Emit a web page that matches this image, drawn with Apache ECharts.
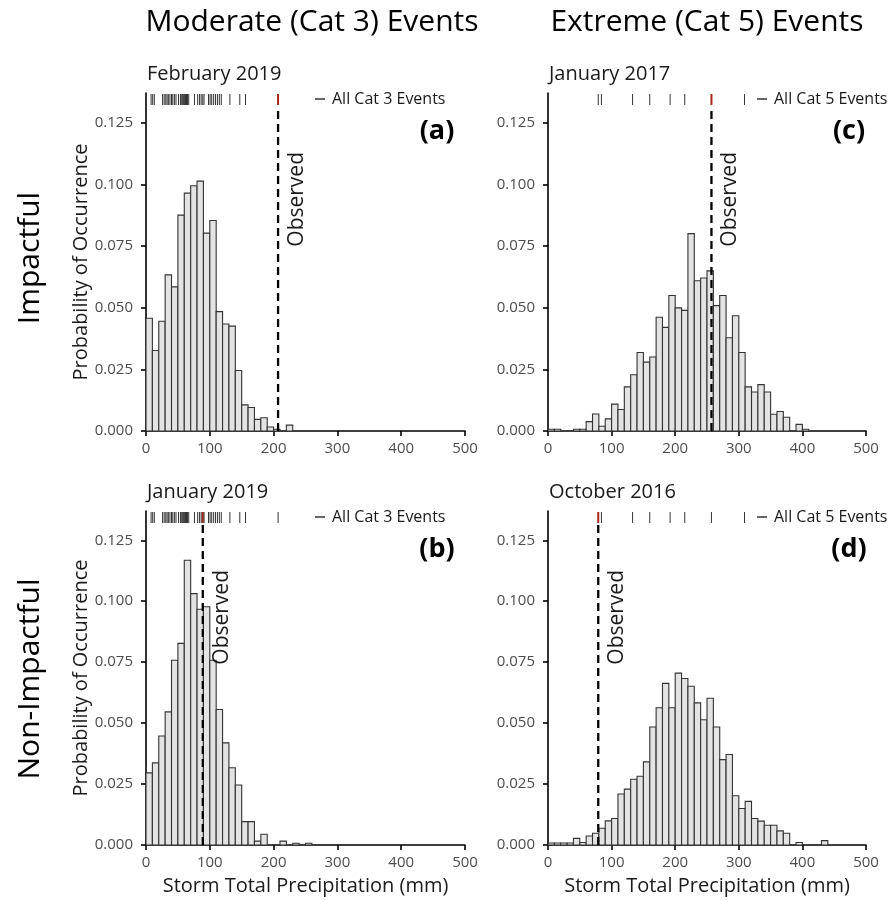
<!DOCTYPE html>
<html>
<head>
<meta charset="utf-8">
<script src="https://cdn.jsdelivr.net/npm/echarts@6/dist/echarts.min.js"></script>
<style>
  html, body { margin: 0; padding: 0; background: #fff; }
  #chart { width: 893px; height: 900px; }
</style>
</head>
<body>
<div id="chart"></div>
<script>
const FONT = '"Open Sans", "Noto Sans", sans-serif'
const BIN = 10
const X_MAX = 500
const Y_MAX = 0.137

// probability per 10 mm bin, starting at 0 mm
const probA = [0.0457, 0.0326, 0.0445, 0.0633, 0.0584, 0.0875, 0.0964, 0.0994, 0.1013, 0.0802,
  0.0853, 0.0484, 0.0434, 0.0425, 0.0245, 0.0106, 0.0095, 0.0047, 0.0054, 0.0016,
  0.0007, 0, 0.0024]
const probB = [0.0296, 0.0337, 0.0447, 0.0546, 0.0758, 0.0827, 0.1168, 0.1031, 0.0967, 0.0977,
  0.0758, 0.0556, 0.0419, 0.0317, 0.0246, 0.0096, 0.0096, 0.0016, 0.0044, 0,
  0, 0.0016, 0, 0.0007, 0, 0.0007]
const probC = [0.0007, 0.0007, 0, 0, 0.0007, 0.0007, 0.0038, 0.0069, 0.0019, 0.0049,
  0.0109, 0.0087, 0.0179, 0.0228, 0.0318, 0.0279, 0.0300, 0.0461, 0.0420, 0.0549,
  0.0499, 0.0489, 0.0800, 0.0609, 0.0620, 0.0649, 0.0508, 0.0549, 0.0378, 0.0467,
  0.0318, 0.0179, 0.0158, 0.0188, 0.0158, 0.0068, 0.0079, 0.0056, 0, 0.0027, 0.0007]
const probD = [0.0008, 0.0008, 0.0008, 0.0008, 0.0027, 0.0010, 0.0037, 0.0048, 0.0069, 0.0099,
  0.0109, 0.0209, 0.0229, 0.0270, 0.0282, 0.0341, 0.0484, 0.0563, 0.0663, 0.0563,
  0.0705, 0.0683, 0.0651, 0.0583, 0.0514, 0.0602, 0.0484, 0.0350, 0.0371, 0.0202,
  0.0150, 0.0179, 0.0109, 0.0098, 0.0081, 0.0081, 0.0058, 0.0048, 0, 0.0010,
  0, 0, 0, 0.0018]

// storm totals (mm) of every event in each category (rug)
const cat3Events = [8, 10.5, 13, 26, 28.5, 31, 33, 35, 37.5, 40, 42, 44.5, 47, 51, 54,
  56, 57.5, 59, 60.5, 62, 63.5, 65, 67, 76, 81, 84, 86.5, 89, 91, 98, 100.5, 103,
  106, 109, 112, 115, 118, 131.5, 147, 156, 207]
const cat5Events = [79, 84, 133, 160, 192, 215, 257, 309]

const observed = [207, 89, 257, 79]
const months = ['February 2019', 'January 2019', 'January 2017', 'October 2016']
const letters = ['(a)', '(b)', '(c)', '(d)']
const yTicks = [0, 0.025, 0.05, 0.075, 0.1, 0.125]

const panels = [
  { probs: probA, events: cat3Events, rug: 'All Cat 3 Events', left: 146, top: 93, height: 338, width: 319, letterX: 437, legendX: 315, col: 0, row: 0 },
  { probs: probB, events: cat3Events, rug: 'All Cat 3 Events', left: 146, top: 511, height: 334, width: 319, letterX: 437, legendX: 315, col: 0, row: 1 },
  { probs: probC, events: cat5Events, rug: 'All Cat 5 Events', left: 548, top: 93, height: 338, width: 318, letterX: 849, legendX: 757, col: 1, row: 0 },
  { probs: probD, events: cat5Events, rug: 'All Cat 5 Events', left: 548, top: 511, height: 334, width: 318, letterX: 849, legendX: 757, col: 1, row: 1 },
]

const renderBin = (params, api) => {
  const tl = api.coord([api.value(0), api.value(2)])
  const br = api.coord([api.value(1), 0])
  return {
    type: 'rect',
    shape: { x: tl[0], y: tl[1], width: br[0] - tl[0], height: br[1] - tl[1] },
    style: { fill: '#e3e3e3', stroke: '#333', lineWidth: 1.1 },
  }
}

const makeRug = obs => (params, api) => {
  const x = api.value(0)
  const px = api.coord([x, 0])[0]
  const top = api.coord([x, Y_MAX])[1]
  const hit = x === obs
  return {
    type: 'line',
    shape: { x1: px, y1: top + 1, x2: px, y2: top + 12 },
    style: { stroke: hit ? '#a8261a' : '#333', lineWidth: hit ? 2 : 1 },
  }
}

const renderObserved = (params, api) => {
  const x = api.value(0)
  const base = api.coord([x, 0])
  const top = api.coord([x, Y_MAX])[1]
  return {
    type: 'group',
    children: [
      {
        type: 'line',
        shape: { x1: base[0], y1: base[1], x2: base[0], y2: top + 14 },
        style: { stroke: '#000', lineWidth: 2.3, lineDash: [8, 5] },
      },
      {
        type: 'text',
        x: base[0] + 19,
        y: top + 59,
        rotation: Math.PI / 2,
        style: { text: 'Observed', font: `21px ${FONT}`, fill: '#1a1a1a', align: 'right', verticalAlign: 'middle' },
      },
    ],
  }
}

const grids = [], xAxes = [], yAxes = [], series = [], legends = [], graphics = []

panels.forEach((p, i) => {
  grids.push({ left: p.left, top: p.top, width: p.width, height: p.height })
  xAxes.push({
    gridIndex: i, type: 'value', min: 0, max: X_MAX, interval: 100,
    name: p.row === 1 ? 'Storm Total Precipitation (mm)' : '',
    nameLocation: 'middle', nameGap: 31,
    nameTextStyle: { fontFamily: FONT, fontSize: 20, color: '#1a1a1a' },
    axisLine: { lineStyle: { color: '#000', width: 1.6 } },
    axisTick: { length: 5, lineStyle: { color: '#000', width: 1.6 } },
    axisLabel: { fontFamily: FONT, fontSize: 15, color: '#4d4d4d', margin: 10 },
    splitLine: { show: false },
  })
  yAxes.push({
    gridIndex: i, type: 'value', min: 0, max: Y_MAX,
    name: p.col === 0 ? 'Probability of Occurrence' : '',
    nameLocation: 'middle', nameGap: 55,
    nameTextStyle: { fontFamily: FONT, fontSize: 20, color: '#1a1a1a' },
    axisLine: { lineStyle: { color: '#000', width: 1.6 } },
    axisTick: { length: 5, customValues: yTicks, lineStyle: { color: '#000', width: 1.6 } },
    axisLabel: { customValues: yTicks, fontFamily: FONT, fontSize: 15, color: '#4d4d4d', margin: 13,
      formatter: v => v.toFixed(3) },
    splitLine: { show: false },
  })

  const bins = p.probs
    .map((v, k) => [k * BIN, (k + 1) * BIN, v])
    .filter(d => d[2] > 0)
  series.push({
    type: 'custom', xAxisIndex: i, yAxisIndex: i,
    renderItem: renderBin, encode: { x: [0, 1], y: 2 }, data: bins, z: 2,
  })
  series.push({
    type: 'custom', name: p.rug, xAxisIndex: i, yAxisIndex: i,
    itemStyle: { color: '#333' },
    renderItem: makeRug(observed[i]), encode: { x: 0, y: 1 },
    data: p.events.map(e => [e, 0]), z: 4,
  })
  series.push({
    type: 'custom', xAxisIndex: i, yAxisIndex: i,
    renderItem: renderObserved, encode: { x: 0, y: 1 },
    data: [[observed[i], 0]], z: 3,
  })

  legends.push({
    data: [p.rug], left: p.legendX, top: p.top - 2,
    icon: 'rect', itemWidth: 10, itemHeight: 1.5, padding: 0, selectedMode: false,
    textStyle: { fontFamily: FONT, fontSize: 16, color: '#1a1a1a', padding: [0, 0, 0, 2] },
  })

  graphics.push({
    type: 'text', x: p.left + 1, y: p.top - 19,
    style: { text: months[i], font: `20px ${FONT}`, fill: '#1a1a1a', align: 'left', verticalAlign: 'middle' },
  })
  graphics.push({
    type: 'text', x: p.letterX, y: p.top + 38,
    style: { text: letters[i], font: `bold 27px ${FONT}`, fill: '#000', align: 'center', verticalAlign: 'middle' },
  })
})

graphics.push(
  { type: 'text', x: 312, y: 22, style: { text: 'Moderate (Cat 3) Events', font: `30px ${FONT}`, fill: '#000', align: 'center', verticalAlign: 'middle' } },
  { type: 'text', x: 707, y: 22, style: { text: 'Extreme (Cat 5) Events', font: `30px ${FONT}`, fill: '#000', align: 'center', verticalAlign: 'middle' } },
  { type: 'text', x: 30, y: 258, rotation: Math.PI / 2, style: { text: 'Impactful', font: `30px ${FONT}`, fill: '#000', align: 'center', verticalAlign: 'middle' } },
  { type: 'text', x: 30, y: 679, rotation: Math.PI / 2, style: { text: 'Non-Impactful', font: `30px ${FONT}`, fill: '#000', align: 'center', verticalAlign: 'middle' } },
)

const chart = echarts.init(document.getElementById('chart'), null, { renderer: 'canvas' })
chart.setOption({
  animation: false,
  backgroundColor: '#fff',
  grid: grids,
  xAxis: xAxes,
  yAxis: yAxes,
  legend: legends,
  graphic: graphics,
  series: series,
})
</script>
</body>
</html>
